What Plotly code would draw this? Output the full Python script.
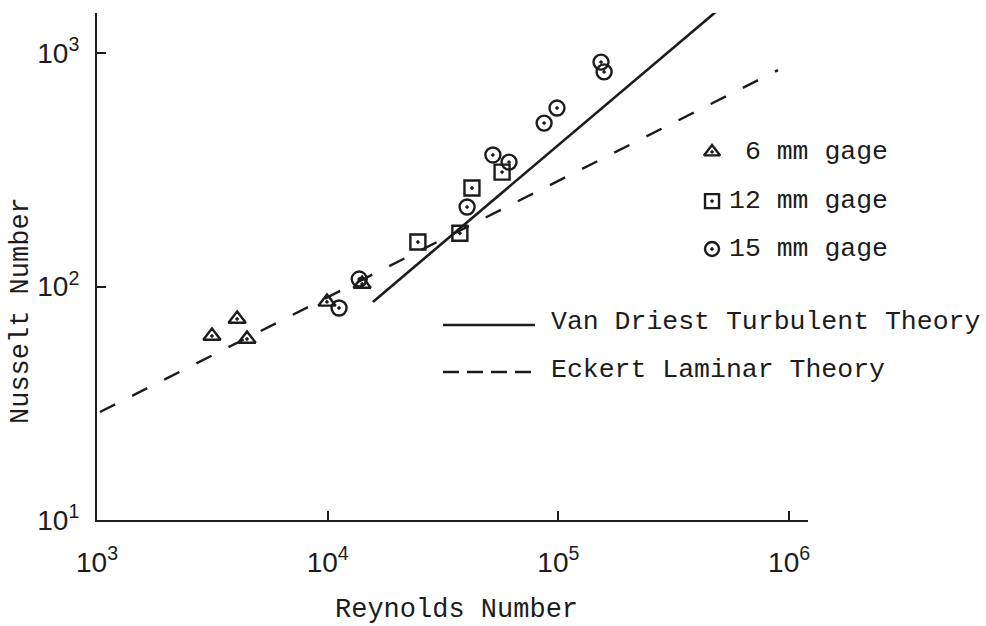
import numpy as np
import plotly.graph_objects as go

# Heat-transfer data: Nusselt number vs Reynolds number for three gage sizes
re_6mm = [3150, 4050, 4470, 9930, 14100]
nu_6mm = [61.4, 72.6, 59.6, 85.9, 102.5]

re_12mm = [24600, 37400, 42200, 57000]
nu_12mm = [155, 169, 264, 309]

re_15mm = [11200, 13700, 40200, 52000, 61100, 86700, 98600, 153000, 157800]
nu_15mm = [80.9, 107.6, 219, 366, 341, 501, 581, 914, 830]

# Theory lines (end points of straight lines in log-log space)
re_turb = [15700, 492000]
nu_turb = [85.9, 1528]
re_lam = [1030, 895000]
nu_lam = [29.0, 845]

x_tickvals = [1e3, 1e4, 1e5, 1e6]
x_ticktext = ["10<sup>3</sup>", "10<sup>4</sup>", "10<sup>5</sup>", "10<sup>6</sup>"]
y_tickvals = [1e1, 1e2, 1e3]
y_ticktext = ["10<sup>1</sup>", "10<sup>2</sup>", "10<sup>3</sup>"]

gage_labels = ["\u00a06 mm gage", "12 mm gage", "15 mm gage"]
theory_labels = ["Van Driest Turbulent Theory", "Eckert Laminar Theory"]

INK = "#1c1c1c"
MONO = "Liberation Mono, Courier New, monospace"
SANS = "Liberation Sans, Arial, sans-serif"

fig = go.Figure()

# theory curves
fig.add_trace(go.Scatter(x=re_lam, y=nu_lam, mode="lines",
                         line=dict(color=INK, width=2.4, dash="17px,19px")))
fig.add_trace(go.Scatter(x=re_turb, y=nu_turb, mode="lines",
                         line=dict(color=INK, width=2.6)))

marker_common = dict(color=INK, size=15, line=dict(color=INK, width=2.4))
fig.add_trace(go.Scatter(x=re_6mm, y=nu_6mm, mode="markers",
                         marker=dict(symbol="triangle-up-open-dot", **marker_common)))
fig.add_trace(go.Scatter(x=re_12mm, y=nu_12mm, mode="markers",
                         marker=dict(symbol="square-open-dot", **marker_common)))
fig.add_trace(go.Scatter(x=re_15mm, y=nu_15mm, mode="markers",
                         marker=dict(symbol="circle-open-dot", **marker_common)))

# key drawn on an overlay frame spanning the plot area (0..1 in both directions)
key_sym = ["triangle-up-open-dot", "square-open-dot", "circle-open-dot"]
key_y = [0.726, 0.629, 0.5345]
for sym, ky in zip(key_sym, key_y):
    fig.add_trace(go.Scatter(x=[0.865], y=[ky], xaxis="x2", yaxis="y2", mode="markers",
                             cliponaxis=False,
                             marker=dict(symbol=sym, color=INK, size=14,
                                         line=dict(color=INK, width=2.4))))
fig.add_trace(go.Scatter(x=[0.4866, 0.616], y=[0.3846, 0.3846], xaxis="x2", yaxis="y2",
                         mode="lines", line=dict(color=INK, width=2.6)))
fig.add_trace(go.Scatter(x=[0.4866, 0.616], y=[0.2919, 0.2919], xaxis="x2", yaxis="y2",
                         mode="lines", line=dict(color=INK, width=2.6, dash="16px,8px")))

annotations = []
for lab, ky in zip(gage_labels, key_y):
    annotations.append(dict(x=0.886, y=ky, xref="x2", yref="y2", text=lab,
                            showarrow=False, xanchor="left", yanchor="middle",
                            font=dict(family=MONO, size=26.5, color=INK)))
for lab, ky in zip(theory_labels, [0.3905, 0.296]):
    annotations.append(dict(x=0.6357, y=ky, xref="x2", yref="y2", text=lab,
                            showarrow=False, xanchor="left", yanchor="middle",
                            font=dict(family=MONO, size=26.5, color=INK)))
annotations.append(dict(x=0.506, y=-0.1775, xref="paper", yref="paper",
                        text="Reynolds Number", showarrow=False,
                        xanchor="center", yanchor="middle",
                        font=dict(family=MONO, size=27, color=INK)))
annotations.append(dict(x=-0.107, y=0.414, xref="paper", yref="paper",
                        text="Nusselt Number", showarrow=False, textangle=-90,
                        xanchor="center", yanchor="middle",
                        font=dict(family=MONO, size=27, color=INK)))

axis_common = dict(showgrid=False, zeroline=False, showline=True, linecolor=INK,
                   linewidth=2.2, ticks="inside", ticklen=9, tickwidth=2,
                   tickcolor=INK, tickfont=dict(family=SANS, size=28, color=INK))

fig.update_layout(
    width=986, height=626,
    margin=dict(l=97, r=178, t=13, b=106),
    paper_bgcolor="white", plot_bgcolor="white",
    showlegend=False,
    annotations=annotations,
    xaxis=dict(type="log", range=[3, 6.0819], tickvals=x_tickvals,
               ticktext=x_ticktext, ticklabelstandoff=16, **axis_common),
    yaxis=dict(type="log", range=[1, 3.1713], tickvals=y_tickvals,
               ticktext=y_ticktext, ticklabelstandoff=10, **axis_common),
    xaxis2=dict(overlaying="x", range=[0, 1], visible=False, fixedrange=True),
    yaxis2=dict(overlaying="y", range=[0, 1], visible=False, fixedrange=True),
)

fig.write_html("out.html")
